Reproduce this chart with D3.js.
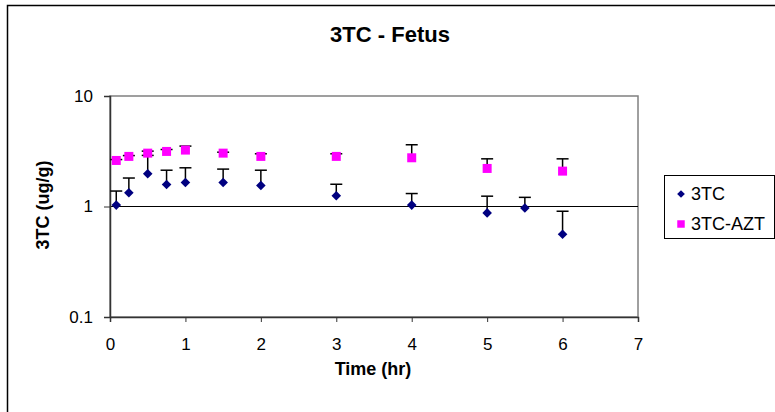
<!DOCTYPE html>
<html>
<head>
<meta charset="utf-8">
<script src="https://cdn.jsdelivr.net/npm/d3@7"></script>
<style>
  body { margin: 0; background: #fff; }
  svg { font-family: "Liberation Sans", Arial, sans-serif; }
</style>
</head>
<body>
<div id="chart"></div>
<script>
// time points (hr)
const times3TC = [0.083, 0.25, 0.5, 0.75, 1, 1.5, 2, 3, 4, 5, 5.5, 6];
const vals3TC  = [1.03, 1.33, 1.98, 1.58, 1.65, 1.65, 1.55, 1.25, 1.03, 0.875, 0.97, 0.56];
const upper3TC = [1.38, 1.81, 2.9, 2.13, 2.24, 2.18, 2.13, 1.59, 1.31, 1.24, 1.21, 0.906];

const timesAZT = [0.083, 0.25, 0.5, 0.75, 1, 1.5, 2, 3, 4, 5, 6];
const valsAZT  = [2.61, 2.84, 3.04, 3.15, 3.24, 3.04, 2.84, 2.84, 2.76, 2.21, 2.09];
const upperAZT = [2.66, 2.89, 3.17, 3.28, 3.52, 3.1, 3.0, 3.0, 3.62, 2.70, 2.70];

const xTicks = [0, 1, 2, 3, 4, 5, 6, 7];
const yTicks = [0.1, 1, 10];

const series = [
  { name: "3TC", times: times3TC, values: vals3TC, upper: upper3TC, color: "#000080", shape: "diamond" },
  { name: "3TC-AZT", times: timesAZT, values: valsAZT, upper: upperAZT, color: "#FF00FF", shape: "square" }
];

const W = 775, H = 412;
const plot = { left: 110, top: 96, right: 638, bottom: 317 };

const svg = d3.select("#chart").append("svg")
  .attr("width", W)
  .attr("height", H);

// outer chart frame
svg.append("rect")
  .attr("x", 7.5).attr("y", 5.5)
  .attr("width", 800).attr("height", 450)
  .attr("fill", "#fff")
  .attr("stroke", "#000").attr("stroke-width", 1.5);

const x = d3.scaleLinear().domain([0, 7]).range([plot.left, plot.right]);
const y = d3.scaleLog().domain([0.1, 10]).range([plot.bottom, plot.top]);

// plot area border
svg.append("rect")
  .attr("x", plot.left).attr("y", plot.top)
  .attr("width", plot.right - plot.left)
  .attr("height", plot.bottom - plot.top)
  .attr("fill", "none")
  .attr("stroke", "#808080").attr("stroke-width", 1.5);

// gridline at 1
svg.append("line")
  .attr("x1", plot.left).attr("x2", plot.right)
  .attr("y1", y(1)).attr("y2", y(1))
  .attr("stroke", "#000").attr("stroke-width", 1);

// axes
const xAxis = svg.append("g")
  .attr("transform", `translate(0,${plot.bottom})`)
  .call(d3.axisBottom(x).tickValues(xTicks).tickSize(5).tickPadding(16).tickFormat(d3.format("d")));
const yAxis = svg.append("g")
  .attr("transform", `translate(${plot.left},0)`)
  .call(d3.axisLeft(y).tickValues(yTicks).tickSize(6).tickPadding(11).tickFormat(d => d3.format("~g")(d)));

[xAxis, yAxis].forEach(g => {
  g.select(".domain").attr("stroke", "#333").attr("stroke-width", 1.5);
  g.selectAll(".tick line").attr("stroke", "#333");
  g.selectAll(".tick text")
    .attr("font-family", "Liberation Sans, Arial, sans-serif")
    .attr("font-size", 17).attr("fill", "#000");
});

// error bars (upper only)
series.forEach(s => {
  const g = svg.append("g");
  s.times.forEach((t, i) => {
    const cx = x(t), y0 = y(s.values[i]), y1 = y(s.upper[i]);
    g.append("line").attr("x1", cx).attr("x2", cx).attr("y1", y0).attr("y2", y1)
      .attr("stroke", "#000").attr("stroke-width", 1.5);
    g.append("line").attr("x1", cx - 6).attr("x2", cx + 6).attr("y1", y1).attr("y2", y1)
      .attr("stroke", "#000").attr("stroke-width", 1.5);
  });
});

// markers
const diamond = d3.symbol().type(d3.symbolSquare).size(46);
series.forEach(s => {
  svg.append("g").selectAll("path")
    .data(s.times.map((t, i) => ({ t, v: s.values[i] })))
    .join("path")
    .attr("transform", d => s.shape === "diamond"
      ? `translate(${x(d.t)},${y(d.v)}) rotate(45)`
      : `translate(${x(d.t)},${y(d.v)})`)
    .attr("d", s.shape === "diamond" ? diamond() : d3.symbol().type(d3.symbolSquare).size(81)())
    .attr("fill", s.color);
});

// title and axis labels
svg.append("text")
  .attr("x", 390).attr("y", 42)
  .attr("text-anchor", "middle")
  .attr("font-size", 22).attr("font-weight", "bold")
  .text("3TC - Fetus");

svg.append("text")
  .attr("x", 373).attr("y", 375)
  .attr("text-anchor", "middle")
  .attr("font-size", 18).attr("font-weight", "bold")
  .text("Time (hr)");

svg.append("text")
  .attr("transform", `translate(49,205) rotate(-90)`)
  .attr("text-anchor", "middle")
  .attr("font-size", 18).attr("font-weight", "bold")
  .text("3TC (ug/g)");

// legend
const legend = svg.append("g").attr("transform", "translate(664,175)");
legend.append("rect")
  .attr("x", 0.5).attr("y", 0.5).attr("width", 110).attr("height", 63)
  .attr("fill", "#fff").attr("stroke", "#000").attr("stroke-width", 1);

const items = legend.selectAll("g.item")
  .data(series)
  .join("g")
  .attr("class", "item")
  .attr("transform", (d, i) => `translate(17,${19 + i * 30})`);

items.append("path")
  .attr("transform", d => d.shape === "diamond" ? "rotate(45)" : null)
  .attr("d", d => d.shape === "diamond"
    ? d3.symbol().type(d3.symbolSquare).size(30)()
    : d3.symbol().type(d3.symbolSquare).size(56)())
  .attr("fill", d => d.color);

items.append("text")
  .attr("x", 10).attr("y", 0)
  .attr("dy", "0.35em")
  .attr("font-size", 18)
  .text(d => d.name);
</script>
</body>
</html>
